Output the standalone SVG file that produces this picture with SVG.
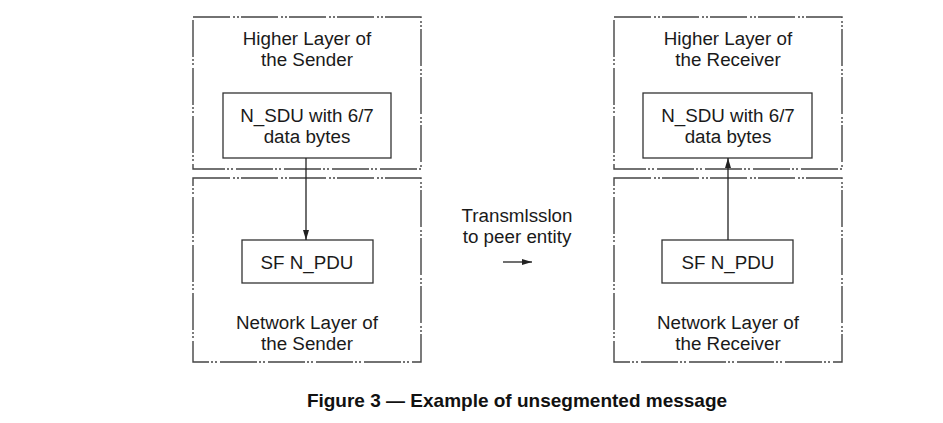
<svg xmlns="http://www.w3.org/2000/svg" width="943" height="423" viewBox="0 0 943 423">
<style>
.layer{fill:none;stroke:#444;stroke-width:1.4;stroke-dasharray:37 3 2 2 2 2}
.box{fill:#fff;stroke:#333;stroke-width:1.3}
.t{font-family:"Liberation Sans",Arial,sans-serif;font-size:18.8px;fill:#1a1a1a;text-anchor:middle}
.cap{font-family:"Liberation Sans",Arial,sans-serif;font-size:19px;font-weight:bold;fill:#111;text-anchor:middle}
.conn{stroke:#222;stroke-width:1.3;fill:none}
</style>
<defs>
<marker id="ah" viewBox="0 0 10 10" refX="10" refY="5" markerWidth="10" markerHeight="10" markerUnits="userSpaceOnUse" orient="auto">
<path d="M0,2 L10,5 L0,8 Z" fill="#222"/>
</marker>
</defs>
<rect width="943" height="423" fill="#fff"/>
<g id="sender-higher">
<rect class="layer" x="193" y="17" width="228" height="152"/>
<text class="t" x="307" y="45">Higher Layer of</text>
<text class="t" x="307" y="66">the Sender</text>
</g>
<g id="sender-nsdu">
<rect class="box" x="223" y="93" width="168" height="65"/>
<text class="t" x="307" y="122">N_SDU with 6/7</text>
<text class="t" x="307" y="143">data bytes</text>
</g>
<g id="sender-network">
<rect class="layer" x="193" y="178" width="228" height="184"/>
<text class="t" x="307" y="329">Network Layer of</text>
<text class="t" x="307" y="350">the Sender</text>
</g>
<g id="sender-npdu">
<rect class="box" x="242" y="240" width="131" height="43"/>
<text class="t" x="307" y="269">SF N_PDU</text>
</g>
<g id="receiver-higher">
<rect class="layer" x="614" y="17" width="228" height="152"/>
<text class="t" x="728" y="45">Higher Layer of</text>
<text class="t" x="728" y="66">the Receiver</text>
</g>
<g id="receiver-nsdu">
<rect class="box" x="643" y="93" width="169" height="65"/>
<text class="t" x="728" y="122">N_SDU with 6/7</text>
<text class="t" x="728" y="143">data bytes</text>
</g>
<g id="receiver-network">
<rect class="layer" x="614" y="178" width="228" height="184"/>
<text class="t" x="728" y="329">Network Layer of</text>
<text class="t" x="728" y="350">the Receiver</text>
</g>
<g id="receiver-npdu">
<rect class="box" x="662" y="240" width="131" height="43"/>
<text class="t" x="728" y="269">SF N_PDU</text>
</g>
<g id="transmission">
<text class="t" x="517" y="222">Transmlsslon</text>
<text class="t" x="517" y="243">to peer entity</text>
</g>
<g id="connectors">
<line class="conn" x1="306" y1="158" x2="306" y2="240" marker-end="url(#ah)"/>
<line class="conn" x1="728" y1="240" x2="728" y2="158" marker-end="url(#ah)"/>
<line class="conn" x1="503" y1="262" x2="532" y2="262" marker-end="url(#ah)"/>
</g>
<text class="cap" x="517" y="407">Figure 3 — Example of unsegmented message</text>
</svg>
